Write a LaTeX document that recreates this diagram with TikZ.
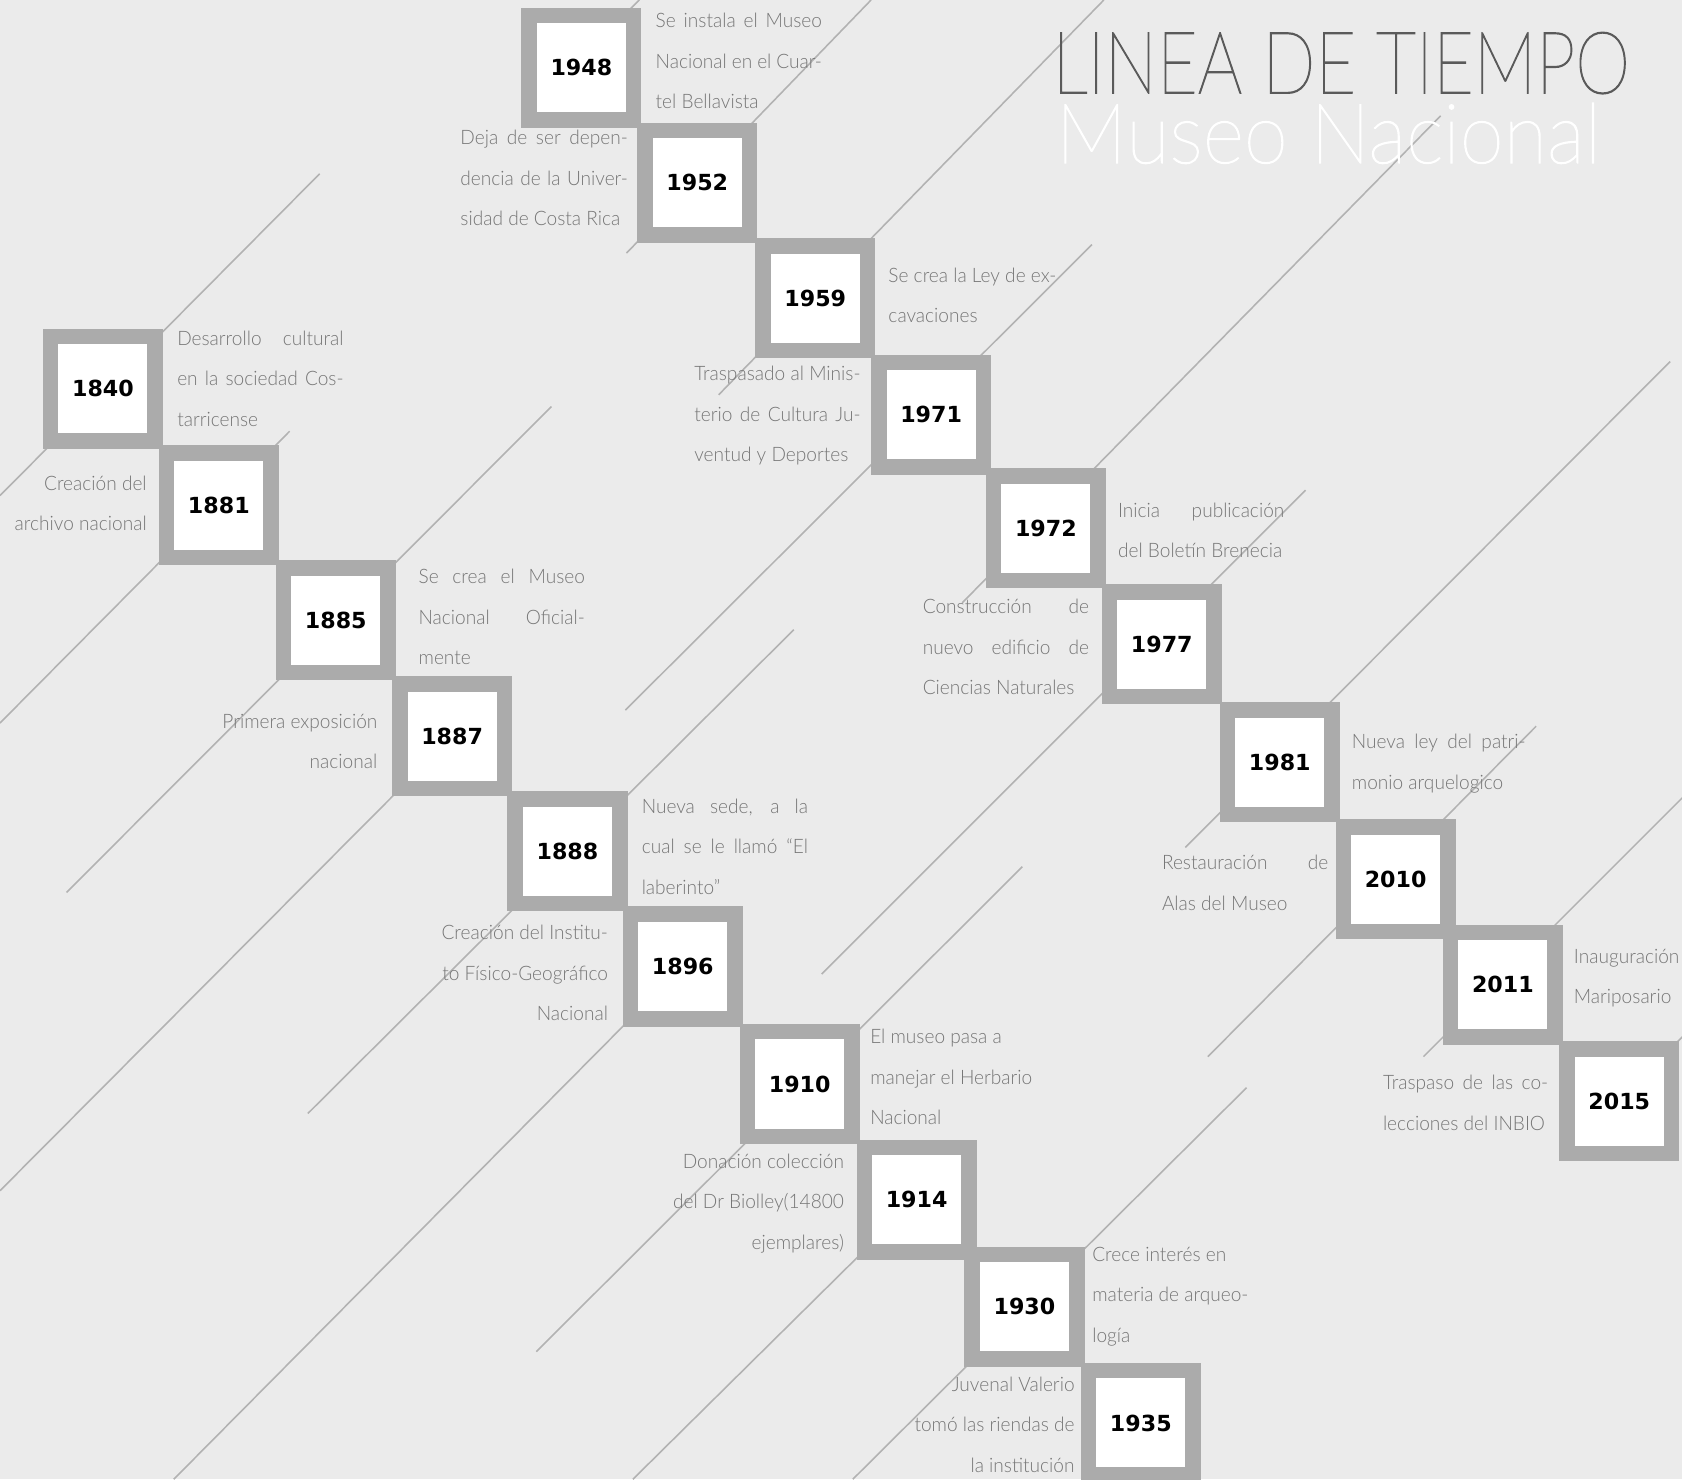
\documentclass[tikz,border=0pt]{standalone}
\usepackage{fontspec}
\usepackage{graphicx}
\newfontfamily\lightf{Lato Light}[FakeStretch=0.96]
\newfontfamily\titlef{Lato Thin}[FakeBold=1.5]
\newfontfamily\yrf{DejaVu Sans}
\newlength\upx \setlength\upx{0.75pt}
\definecolor{bg}{RGB}{235,235,235}
\definecolor{boxgray}{RGB}{171,171,171}
\definecolor{linegray}{RGB}{178,178,178}
\definecolor{txtgray}{RGB}{118,118,118}
\definecolor{titlegray}{RGB}{90,90,90}
\newcommand\descfont{\lightf\fontsize{13.9pt}{28.3pt}\selectfont}
\newcommand\yrfont{\yrf\bfseries\fontsize{15.5pt}{18pt}\selectfont}
\newcommand\lblk[1]{\vtop{\baselineskip=28.3pt\lineskiplimit=-50pt\halign{##\hfil\cr#1\crcr}}}
\newcommand\rblk[1]{\vtop{\baselineskip=28.3pt\lineskiplimit=-50pt\halign{\hfil##\cr#1\crcr}}}
\newcommand\jl[2]{\makebox[#1\upx][s]{#2}}
\tikzset{
  yr/.style={draw=boxgray, line width=14.5\upx, fill=white, minimum size=97.5\upx, inner sep=0pt, font=\yrfont, text=black},
  desc/.style={inner sep=0pt, font=\descfont, text=txtgray},
  ln/.style={draw=linegray, line width=1.1pt}
}
\begin{document}
\begin{tikzpicture}[x=0.75pt,y=-0.75pt]
\useasboundingbox (0,0) rectangle (1568,1379);
\fill[bg] (0,0) rectangle (1568,1379);
\clip (0,0) rectangle (1568,1379);
% background diagonal lines
\draw[ln] (0,462) -- (298,162);
\draw[ln] (0,674) -- (270,402);
\draw[ln] (62,832) -- (514,379);
\draw[ln] (0,1110) -- (421,687);
\draw[ln] (287,1038) -- (740,587);
\draw[ln] (162,1379) -- (636,901);
\draw[ln] (590,1379) -- (854,1118);
\draw[ln] (500,1260) -- (953,808);
\draw[ln] (795,1379) -- (1162,1014);
\draw[ln] (560,36) -- (596,0);
\draw[ln] (584,236) -- (812,0);
\draw[ln] (670,368) -- (1029,0);
\draw[ln] (583,662) -- (1018,228);
\draw[ln] (897,562) -- (1343,108);
\draw[ln] (766,908) -- (1217,457);
\draw[ln] (1105,790) -- (1557,337);
\draw[ln] (1126,985) -- (1432,677);
\draw[ln] (1327,985) -- (1590,722);
\draw[ln] (1509,1026) -- (1590,945);
% title
\node[anchor=base west, inner sep=0pt, text=titlegray] (title) at (981,87) {\resizebox{538\upx}{57\upx}{\titlef LINEA DE TIEMPO}};
\node[anchor=base west, inner sep=0pt, text=white] (subtitle) at (984,152) {\resizebox{508\upx}{56\upx}{\titlef Museo Nacional}};
% year boxes, chain 1
\node[yr] (y1840) at (96,362.5) {1840};
\node[yr] (y1881) at (204,471) {1881};
\node[yr] (y1885) at (313,578) {1885};
\node[yr] (y1887) at (421.5,686.5) {1887};
\node[yr] (y1888) at (529,793.5) {1888};
\node[yr] (y1896) at (636.5,901) {1896};
\node[yr] (y1910) at (745.5,1010.5) {1910};
\node[yr] (y1914) at (854.5,1118.5) {1914};
\node[yr] (y1930) at (955,1218) {1930};
\node[yr] (y1935) at (1063.5,1326.5) {1935};
% year boxes, chain 2
\node[yr] (y1948) at (542,63) {1948};
\node[yr] (y1952) at (650,170.5) {1952};
\node[yr] (y1959) at (760,278) {1959};
\node[yr] (y1971) at (868,386.5) {1971};
\node[yr] (y1972) at (975,492.5) {1972};
\node[yr] (y1977) at (1083,600.5) {1977};
\node[yr] (y1981) at (1193,710.5) {1981};
\node[yr] (y2010) at (1301,819.5) {2010};
\node[yr] (y2011) at (1401,918) {2011};
\node[yr] (y2015) at (1509.5,1026.5) {2015};
% descriptions, right side
\node[desc, anchor=base west] (d1840) at (165,322) {\lblk{\jl{155}{Desarrollo cultural}\cr\jl{155}{en la sociedad Cos-}\cr tarricense}};
\node[desc, anchor=base west] (d1885) at (390,544) {\lblk{\jl{155}{Se crea el Museo}\cr\jl{155}{Nacional Oficial-}\cr mente}};
\node[desc, anchor=base west] (d1888) at (598,758) {\lblk{\jl{155}{Nueva sede, a la}\cr\jl{155}{cual se le llamó “El}\cr laberinto”}};
\node[desc, anchor=base west] (d1910) at (811,973) {\lblk{El museo pasa a\cr manejar el Herbario\cr Nacional}};
\node[desc, anchor=base west] (d1930) at (1018,1176) {\lblk{Crece interés en\cr materia de arqueo-\cr logía}};
\node[desc, anchor=base west] (d1948) at (611,26) {\lblk{\jl{155}{Se instala el Museo}\cr\jl{155}{Nacional en el Cuar-}\cr tel Bellavista}};
\node[desc, anchor=base west] (d1959) at (828,263) {\lblk{Se crea la Ley de ex-\cr cavaciones}};
\node[desc, anchor=base west] (d1972) at (1042,482) {\lblk{\jl{155}{Inicia publicación}\cr del Boletín Brenecia}};
\node[desc, anchor=base west] (d1981) at (1260,698) {\lblk{\jl{162}{Nueva ley del patri-}\cr monio arquelogico}};
\node[desc, anchor=base west] (d2011) at (1467,898) {\lblk{Inauguración\cr Mariposario}};
% descriptions, left side
\node[desc, anchor=base east] (d1881) at (137,457) {\rblk{Creación del\cr archivo nacional}};
\node[desc, anchor=base east] (d1887) at (352,679) {\rblk{Primera exposición\cr nacional}};
\node[desc, anchor=base east] (d1896) at (567,876) {\rblk{Creación del Institu-\cr to Físico-Geográfico\cr Nacional}};
\node[desc, anchor=base east] (d1914) at (787,1089) {\rblk{Donación colección\cr del Dr Biolley(14800\cr ejemplares)}};
\node[desc, anchor=base east] (d1935) at (1002,1297) {\rblk{Juvenal Valerio\cr tomó las riendas de\cr la institución}};
\node[desc, anchor=base west] (d1952) at (429,135) {\lblk{\jl{156}{Deja de ser depen-}\cr\jl{156}{dencia de la Univer-}\cr sidad de Costa Rica}};
\node[desc, anchor=base west] (d1971) at (647,355) {\lblk{\jl{155}{Traspasado al Minis-}\cr\jl{155}{terio de Cultura Ju-}\cr ventud y Deportes}};
\node[desc, anchor=base west] (d1977) at (860,572) {\lblk{\jl{155}{Construcción de}\cr\jl{155}{nuevo edificio de}\cr Ciencias Naturales}};
\node[desc, anchor=base west] (d2010) at (1083,811) {\lblk{\jl{155}{Restauración de}\cr Alas del Museo}};
\node[desc, anchor=base west] (d2015) at (1289,1016) {\lblk{\jl{154}{Traspaso de las co-}\cr lecciones del INBIO}};
\end{tikzpicture}
\end{document}
